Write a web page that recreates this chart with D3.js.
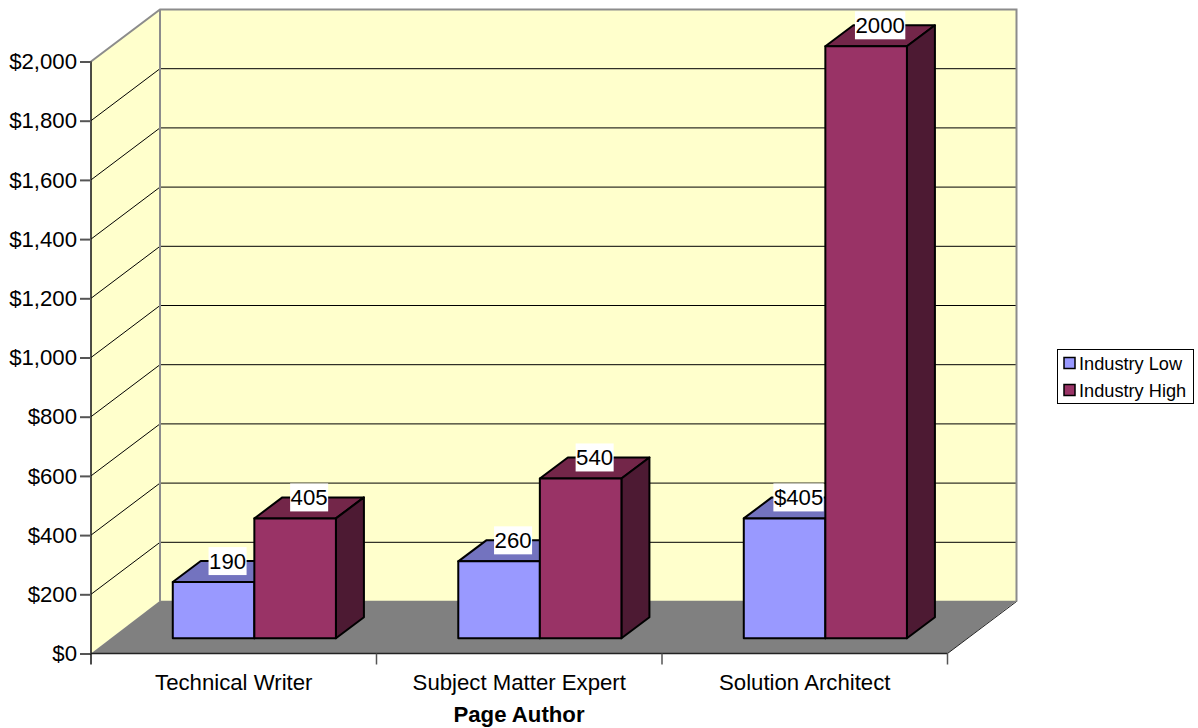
<!DOCTYPE html>
<html>
<head>
<meta charset="utf-8">
<script src="https://cdn.jsdelivr.net/npm/d3@7"></script>
<style>
html, body { margin: 0; padding: 0; background: #fff; }
svg { display: block; }
text { font-family: "Liberation Sans", Arial, sans-serif; fill: #000; }
</style>
</head>
<body>
<div id="graphic"></div>
<script>
//data
var categories = ["Technical Writer", "Subject Matter Expert", "Solution Architect"];
var seriesNames = ["Industry Low", "Industry High"];
var lowValues = [190, 260, 405];
var highValues = [405, 540, 2000];
var lowLabels = ["190", "260", "$405"];
var highLabels = ["405", "540", "2000"];
var yTicks = [0, 200, 400, 600, 800, 1000, 1200, 1400, 1600, 1800, 2000];
var xTitle = "Page Author";

//base colors
var colors = {
    wall: "#FFFFCC", floor: "#808080", edge: "#8C8C8C",
    low: "#9999FF", lowTop: "#7373BF",
    high: "#993366", highTop: "#732649", highSide: "#4D1A33"
};

var width = 1198, height = 728;
var wallDx = 69, wallDy = -52;   // depth of the chart box
var barDx = 28, barDy = -21;     // depth of a bar
var floorDx = 20.6, floorDy = -15.2; // bars stand a bit behind the front edge

var svg = d3.select("#graphic").append("svg")
    .attr("width", width)
    .attr("height", height);

var y = d3.scaleLinear().domain([0, 2000]).range([653.5, 61.5]);
var x0 = d3.scaleBand().domain(categories).range([91, 947.5]);
var x1 = d3.scaleBand().domain(seriesNames).range([0, x0.bandwidth()]).paddingInner(0).paddingOuter(0.75);

var left = x0.range()[0], right = x0.range()[1];

function pts(a) { return a.map(function(p) { return p.join(","); }).join(" "); }

//walls and floor
svg.append("polygon")
    .attr("points", pts([[left + wallDx, y(2000) + wallDy], [right + wallDx, y(2000) + wallDy], [right + wallDx, y(0) + wallDy], [left + wallDx, y(0) + wallDy]]))
    .style("fill", colors.wall);
svg.append("polygon")
    .attr("points", pts([[left, y(2000)], [left + wallDx, y(2000) + wallDy], [left + wallDx, y(0) + wallDy], [left, y(0)]]))
    .style("fill", colors.wall);
svg.append("polygon")
    .attr("points", pts([[left, y(0)], [left + wallDx, y(0) + wallDy - 0.7], [right + wallDx, y(0) + wallDy - 0.7], [right, y(0)]]))
    .style("fill", colors.floor);

//gridlines
var grid = svg.append("g").attr("class", "grid");
grid.selectAll("path")
    .data(yTicks.slice(1, -1))
    .enter().append("path")
    .attr("d", function(d) {
        return "M" + left + "," + y(d) + "L" + (left + wallDx) + "," + (y(d) + wallDy) + "L" + (right + wallDx) + "," + (y(d) + wallDy);
    })
    .style("fill", "none")
    .style("stroke", "#000")
    .style("stroke-width", 1);

//wall outlines
svg.append("path")
    .attr("d", "M" + left + "," + y(2000) + "L" + (left + wallDx) + "," + (y(2000) + wallDy) + "L" + (right + wallDx) + "," + (y(2000) + wallDy) + "L" + (right + wallDx) + "," + (y(0) + wallDy))
    .style("fill", "none").style("stroke", colors.edge).style("stroke-width", 2);
svg.append("path")
    .attr("d", "M" + (left + wallDx) + "," + (y(2000) + wallDy) + "L" + (left + wallDx) + "," + (y(0) + wallDy))
    .style("fill", "none").style("stroke", colors.edge).style("stroke-width", 2);
svg.append("path")
    .attr("d", "M" + (right + wallDx) + "," + (y(0) + wallDy) + "L" + right + "," + y(0))
    .style("fill", "none").style("stroke", "#222").style("stroke-width", 1);

//axes
var yAxis = svg.append("g")
    .attr("transform", "translate(" + left + ",0)")
    .call(d3.axisLeft(y).tickValues(yTicks).tickSize(11).tickPadding(3).tickFormat(function(d) { return "$" + d3.format(",")(d); }));
yAxis.selectAll("text").style("font-size", "22.2px").style("font-family", null);
yAxis.selectAll("line").style("stroke", "#555").style("stroke-width", 2);
yAxis.select(".domain").attr("d", "M0," + y(0) + "V" + y(2000)).style("stroke", "#111").style("stroke-width", 1.5);

var xAxis = svg.append("g")
    .attr("transform", "translate(0," + y(0) + ")")
    .call(d3.axisBottom(x0).tickSize(0).tickPadding(21));
xAxis.selectAll("text").style("font-size", "22.2px").style("font-family", null);
xAxis.select(".domain").attr("d", "M" + left + ",0H" + right).style("stroke", "#222").style("stroke-width", 1.5);

//category boundary ticks
svg.append("g").selectAll("line")
    .data(categories.map(function(c) { return x0(c); }).concat([right]))
    .enter().append("line")
    .attr("x1", function(d) { return d; })
    .attr("x2", function(d) { return d; })
    .attr("y1", y(0))
    .attr("y2", y(0) + 11)
    .style("stroke", function(d, i) { return i == 0 ? "#111" : "#555"; })
    .style("stroke-width", 1.5);

//bars
function drawBar(g, xPos, value, fill, topFill, sideFill) {
    var bw = x1.bandwidth();
    var x = xPos + floorDx;
    var yTop = y(value) + floorDy;
    var yBase = y(0) + floorDy;
    var style = function(s, f) {
        return s.style("fill", f).style("stroke", "#000").style("stroke-width", 2).style("stroke-linejoin", "round");
    };
    style(g.append("polygon").attr("points", pts([[x, yTop], [x + barDx, yTop + barDy], [x + bw + barDx, yTop + barDy], [x + bw, yTop]])), topFill);
    style(g.append("polygon").attr("points", pts([[x + bw, yTop], [x + bw + barDx, yTop + barDy], [x + bw + barDx, yBase + barDy], [x + bw, yBase]])), sideFill);
    style(g.append("polygon").attr("points", pts([[x, yTop], [x + bw, yTop], [x + bw, yBase], [x, yBase]])), fill);
}

var barLayer = svg.append("g").attr("class", "bars");
categories.forEach(function(c, i) {
    var g = barLayer.append("g");
    drawBar(g, x0(c) + x1(seriesNames[0]), lowValues[i], colors.low, colors.lowTop, colors.highSide);
    drawBar(g, x0(c) + x1(seriesNames[1]), highValues[i], colors.high, colors.highTop, colors.highSide);
});

//data labels, white box behind the text
function drawLabel(xPos, value, label) {
    var cx = xPos + floorDx + x1.bandwidth() / 2 + barDx / 2;
    var cy = y(value) + floorDy + barDy;
    var g = svg.append("g");
    var t = g.append("text")
        .attr("x", cx)
        .attr("y", cy)
        .attr("dy", "0.34em")
        .attr("text-anchor", "middle")
        .style("font-size", "22.2px")
        .text(label);
    var w = t.node().getComputedTextLength();
    g.insert("rect", "text")
        .attr("x", cx - w / 2 - 0.5)
        .attr("y", cy - 14)
        .attr("width", w + 1)
        .attr("height", 28)
        .style("fill", "#fff");
}
categories.forEach(function(c, i) {
    drawLabel(x0(c) + x1(seriesNames[0]), lowValues[i], lowLabels[i]);
    drawLabel(x0(c) + x1(seriesNames[1]), highValues[i], highLabels[i]);
});

//axis title
svg.append("text")
    .attr("x", 519)
    .attr("y", 722)
    .attr("text-anchor", "middle")
    .style("font-size", "22.2px")
    .style("font-weight", "bold")
    .text(xTitle);

//legend code
var legend = svg.append("g")
    .attr("class", "legend")
    .attr("transform", "translate(1057.5,349.5)");

legend.append("rect")
    .attr("width", 136)
    .attr("height", 54)
    .style("fill", "#fff")
    .style("stroke", "#000")
    .style("stroke-width", 1);

legend.selectAll(".swatch")
    .data(seriesNames)
    .enter().append("rect")
    .attr("class", "swatch")
    .attr("x", 6.5)
    .attr("y", function(d, i) { return 8 + i * 27; })
    .attr("width", 11)
    .attr("height", 11)
    .style("fill", function(d, i) { return i == 0 ? colors.low : colors.high; })
    .style("stroke", "#000")
    .style("stroke-width", 1.5);

legend.selectAll(".entry")
    .data(seriesNames)
    .enter().append("text")
    .attr("class", "entry")
    .attr("x", 21.5)
    .attr("y", function(d, i) { return 20 + i * 27; })
    .style("font-size", "18.2px")
    .text(function(d) { return d; });
</script>
</body>
</html>
